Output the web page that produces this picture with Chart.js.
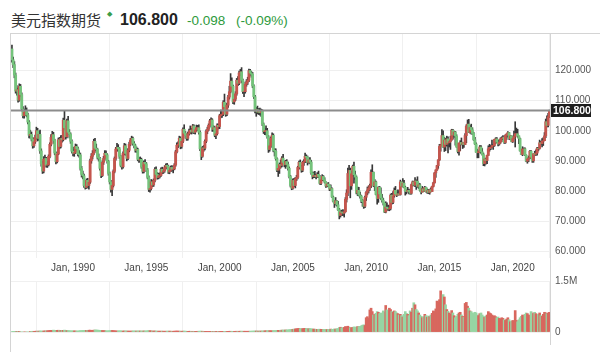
<!DOCTYPE html>
<html><head><meta charset="utf-8">
<script src="https://cdn.jsdelivr.net/npm/chart.js@4.4.0/dist/chart.umd.min.js"></script>
<style>
html,body{margin:0;padding:0;background:#fff;width:600px;height:352px;overflow:hidden;position:relative;font-family:"Liberation Sans",Arial,sans-serif}
.t{position:absolute;white-space:nowrap;line-height:1}
#title{left:11px;top:12px;font-family:"Noto Sans CJK SC","Noto Sans",sans-serif;font-size:15px;color:#333}
#dia{left:107px;top:10px;font-size:7px;color:#3a9d4a}
#last{left:120px;top:12px;font-size:16px;font-weight:bold;color:#222}
#chg{left:187px;top:14px;font-size:13.5px;color:#2e9a3c}
#pct{left:236px;top:14px;font-size:13.5px;color:#2e9a3c}
.ln{position:absolute;background:#d4d4d4}
canvas{position:absolute;left:0}
</style></head><body>
<div class="t" id="title">美元指数期货</div>
<div class="t" id="dia">◆</div>
<div class="t" id="last">106.800</div>
<div class="t" id="chg">-0.098</div>
<div class="t" id="pct">(-0.09%)</div>
<canvas id="pc" width="600" height="280" style="top:0"></canvas>
<canvas id="vc" width="600" height="82" style="top:270px"></canvas>
<div class="ln" style="left:10px;top:33px;width:590px;height:1px"></div>
<div class="ln" style="left:10px;top:33px;width:1px;height:319px"></div>
<div class="ln" style="left:550px;top:33px;width:1px;height:312px"></div>
<script>
// Monthly candles, Nov 1985 .. Jul 2022
const opens = [
127.2,123.6,
122.0,118.5,113.2,113.6,110.2,114.8,112.0,107.2,105.0,106.2,106.8,105.3,
102.9,98.5,98.8,97.2,95.0,96.3,97.8,100.0,97.5,98.8,93.3,89.0,
86.6,90.5,90.8,88.6,88.7,91.5,95.5,97.8,98.7,96.8,92.6,89.7,
92.3,97.0,94.8,97.5,97.0,103.5,101.0,98.0,103.3,99.5,98.8,96.5,
93.2,92.5,92.8,94.8,94.0,92.3,92.0,87.5,85.5,85.0,81.8,81.2,
83.5,81.8,82.9,90.0,91.5,92.5,96.5,94.2,93.8,91.2,90.8,87.5,
85.1,89.5,90.8,92.5,92.0,89.8,85.8,83.0,80.5,81.8,86.5,90.8,
93.9,94.5,94.0,91.5,88.5,88.0,92.5,95.0,92.5,90.8,93.5,95.5,
96.9,97.5,95.8,95.0,93.5,93.8,90.5,90.3,90.5,88.0,86.5,89.5,
89.0,87.0,84.5,80.5,80.8,83.0,82.0,83.5,87.2,85.5,84.5,85.0,
85.1,87.2,86.3,86.7,87.8,88.5,88.2,86.3,86.8,87.8,87.2,87.3,
88.6,93.0,95.2,95.5,97.5,94.8,96.5,100.5,99.2,98.5,97.5,99.0,
99.7,100.2,99.6,101.6,99.5,100.3,101.0,101.0,99.5,94.0,91.5,94.3,
94.2,96.5,99.8,100.5,101.8,103.3,103.6,100.5,101.0,98.5,99.0,101.8,
101.4,105.0,105.4,105.5,109.5,108.0,105.5,108.5,111.2,113.0,116.5,114.8,
109.6,110.5,112.3,116.8,115.8,119.2,119.6,116.8,113.0,113.0,115.5,116.2,
116.8,120.0,119.2,118.8,114.9,111.3,106.5,107.0,106.2,106.5,106.0,106.5,
102.2,99.7,100.0,100.0,98.0,93.8,95.0,97.5,98.5,93.5,93.2,90.7,
86.9,87.5,88.8,88.5,90.9,89.5,88.7,89.8,88.8,87.5,84.8,81.8,
80.9,83.5,81.8,84.0,84.5,87.8,89.5,88.0,86.9,89.5,89.8,91.5,
91.2,89.5,90.3,89.6,86.0,84.8,85.1,85.1,84.7,85.5,84.9,82.5,
83.7,84.8,83.7,82.9,81.6,82.3,81.8,80.6,80.8,78.0,76.6,75.8,
76.7,75.4,73.7,71.9,73.0,72.9,72.6,73.1,77.2,79.3,85.8,86.8,
81.7,85.7,88.2,85.4,84.6,79.3,80.2,78.6,78.3,76.8,76.4,74.9,
77.9,79.5,80.3,81.0,81.8,86.2,86.2,81.7,83.0,78.8,77.5,81.2,
79.0,77.6,76.9,75.9,73.0,74.6,74.3,74.0,74.2,78.6,76.2,78.4,
80.2,79.0,78.6,79.0,78.8,83.0,81.6,82.6,81.2,79.9,79.8,80.2,
79.8,79.2,82.1,83.0,81.9,83.3,83.2,81.5,82.0,80.2,79.6,80.7,
80.0,81.2,79.7,80.1,79.5,80.4,79.8,81.5,82.7,86.0,87.0,88.4,
90.3,94.8,95.3,98.4,94.6,96.9,95.5,97.3,96.0,96.4,97.0,100.2,
98.6,99.6,98.2,94.6,93.1,95.9,96.1,95.5,96.0,95.4,98.4,101.5,
102.2,99.5,101.1,100.3,99.1,97.0,95.6,92.9,92.7,93.1,94.6,93.0,
92.1,89.1,90.6,90.1,91.8,94.0,94.5,94.5,95.1,95.1,97.1,97.3,
96.2,95.6,96.2,97.3,97.5,97.8,96.1,98.5,98.9,99.4,97.4,98.3,
96.4,97.4,98.1,99.0,99.0,98.3,97.4,93.3,92.1,93.9,94.0,91.9,
89.9,90.6,90.9,93.2,91.3,90.0,92.4,92.2,92.6,94.2,94.1,96.0,
95.7,96.5,96.7,98.3,103.0,101.8,104.7];
const highs = [
128.5,124.5,
123.0,119.2,115.0,114.2,115.6,115.4,112.6,108.0,107.2,108.3,107.6,105.9,
103.4,100.2,99.6,97.8,97.4,98.6,101.2,100.8,99.8,100.2,94.0,89.8,
91.4,91.9,91.2,89.8,92.0,96.0,98.7,99.8,99.5,97.2,93.0,92.8,
97.6,97.8,98.4,98.5,104.2,106.6,101.6,103.9,104.8,100.4,99.3,97.0,
94.6,93.8,95.6,95.4,94.6,93.4,92.6,88.2,86.6,85.6,82.9,84.0,
84.2,83.4,90.6,92.4,93.4,97.2,97.5,95.6,94.2,92.3,91.2,88.0,
90.0,91.5,93.4,93.3,92.4,90.2,86.3,83.5,82.6,87.0,91.3,94.5,
95.8,95.4,94.5,91.9,89.3,93.0,95.8,95.6,93.0,94.1,96.2,97.5,
98.2,97.9,96.4,95.5,94.6,94.2,91.2,91.3,90.9,88.5,90.0,90.4,
89.5,87.5,85.0,81.8,83.8,83.6,84.0,87.8,88.0,86.1,85.9,86.0,
87.7,87.9,87.3,88.4,89.0,89.2,88.6,87.4,88.3,88.4,88.0,89.1,
93.5,96.0,96.3,98.2,98.0,97.0,101.0,102.0,99.8,99.0,99.6,100.6,
101.6,100.8,102.1,102.0,100.9,101.9,101.8,102.0,100.0,94.4,94.8,95.1,
97.0,100.3,101.2,102.3,103.8,104.3,104.0,101.7,101.4,99.8,102.3,102.3,
105.5,106.9,106.6,110.0,112.2,108.5,109.2,111.8,114.8,119.0,117.6,115.2,
111.9,113.0,117.4,118.0,119.8,120.4,121.0,117.2,114.8,116.2,117.0,117.8,
120.5,120.4,119.8,119.4,115.3,111.8,107.8,108.2,107.4,107.5,107.2,107.0,
102.6,100.8,101.6,100.8,98.4,96.0,98.0,99.3,99.0,94.1,94.0,91.0,
88.0,89.3,90.3,91.4,92.2,90.0,90.2,90.4,89.6,88.0,85.2,82.4,
84.0,84.2,84.5,85.2,88.2,89.9,90.3,88.5,89.9,90.4,92.6,92.0,
91.6,91.0,91.1,90.2,86.3,86.3,86.5,85.6,86.1,86.6,85.2,84.2,
85.4,85.1,84.4,83.1,82.6,82.8,82.0,82.0,81.0,78.3,76.8,77.8,
76.8,76.5,74.2,73.6,73.6,73.8,73.4,77.8,80.4,87.6,88.5,87.6,
86.5,88.6,89.6,86.6,85.0,81.3,81.2,79.6,78.6,77.2,76.7,78.3,
79.8,81.3,81.7,82.3,87.0,88.7,86.3,83.8,83.3,79.1,81.4,81.5,
81.0,78.9,77.6,76.0,76.4,76.0,75.3,75.1,79.0,79.2,79.8,81.0,
81.5,79.6,80.4,80.0,83.6,83.0,84.1,83.5,81.6,80.4,81.2,80.6,
80.4,82.3,83.3,83.2,84.4,83.7,84.7,82.6,82.4,80.8,81.5,81.0,
81.5,81.3,80.7,80.5,80.6,81.0,81.6,82.9,86.1,87.0,88.5,90.4,
95.5,95.5,100.4,100.0,97.8,97.5,98.2,98.0,96.8,98.2,100.5,100.5,
99.9,99.8,98.7,95.1,95.9,96.7,97.6,96.2,96.0,99.1,102.0,103.6,
103.8,101.8,102.2,101.0,99.5,97.8,96.0,93.9,93.3,95.1,95.1,94.1,
92.6,90.9,90.9,91.9,95.0,95.5,95.2,96.9,95.5,97.2,97.7,97.7,
96.9,97.0,97.7,98.0,98.4,97.8,98.7,99.0,99.7,99.5,98.5,98.3,
98.2,99.9,103.0,100.9,100.5,98.3,97.6,93.9,94.7,94.3,94.3,92.0,
91.0,91.6,93.4,93.4,91.4,92.4,93.2,93.7,94.5,94.5,96.9,96.5,
97.4,97.7,99.4,103.9,105.0,105.8,106.9];
const lows = [
122.8,121.0,
117.6,112.5,111.8,109.5,109.8,111.3,106.6,104.3,104.2,105.1,104.6,102.3,
97.6,97.5,96.6,94.2,94.5,95.8,97.2,96.6,96.8,92.5,88.2,85.8,
86.0,89.6,87.9,87.8,88.3,91.0,95.0,97.0,95.8,92.0,89.0,89.3,
92.0,94.0,94.3,96.2,96.6,100.2,97.2,97.6,98.8,97.6,95.8,92.6,
91.6,91.5,92.4,93.2,91.6,91.2,86.9,84.6,84.0,81.2,80.6,80.8,
81.0,80.6,82.5,89.2,90.6,92.0,93.5,92.8,90.6,89.9,86.9,84.4,
84.8,88.8,90.2,91.2,89.2,85.2,82.3,79.6,78.4,81.3,86.0,90.2,
93.2,93.2,90.8,88.0,87.2,87.6,92.0,91.8,90.0,90.4,93.0,95.0,
96.2,95.2,94.3,92.9,92.8,90.0,89.5,89.6,87.5,85.9,86.0,88.3,
86.4,84.0,79.8,79.6,80.3,81.4,81.5,83.0,85.0,83.9,84.0,84.3,
84.8,85.7,85.8,86.2,87.2,87.6,85.8,85.7,86.4,86.6,86.0,87.0,
88.2,92.6,94.4,95.0,94.0,94.2,96.0,98.6,97.5,96.8,96.9,98.5,
99.0,98.9,99.2,99.0,98.9,99.8,100.1,98.9,93.4,90.4,91.2,93.2,
93.6,96.0,99.0,100.0,101.2,102.6,99.8,99.8,98.0,97.4,98.6,100.6,
100.7,104.3,104.4,105.0,107.2,104.8,105.0,107.8,110.5,112.6,114.0,109.0,
108.8,110.0,111.8,115.0,115.3,118.3,115.9,112.4,111.3,112.5,114.8,115.4,
116.3,118.5,117.8,114.3,110.7,105.9,104.8,105.6,105.4,105.2,104.8,101.7,
99.1,98.7,98.6,97.5,92.8,93.2,94.5,96.9,93.0,91.6,90.2,86.4,
84.8,85.8,87.6,88.0,89.0,88.0,87.5,88.1,86.9,84.3,81.3,80.4,
80.6,81.4,81.0,83.4,84.0,87.2,87.5,86.2,86.4,88.5,89.4,89.5,
88.6,89.2,89.0,85.5,84.0,84.4,84.4,84.0,84.5,84.4,82.2,82.1,
83.4,83.3,82.6,81.2,81.3,81.5,80.1,80.2,77.8,76.3,74.5,75.3,
74.9,73.5,70.7,71.3,71.8,71.8,71.3,72.9,76.3,78.4,84.5,77.7,
80.5,84.8,82.6,83.8,79.0,78.4,78.3,77.6,76.1,74.9,74.2,74.4,
76.8,78.7,79.3,80.2,81.1,85.0,81.4,80.1,78.7,75.6,76.2,78.9,
77.2,76.3,75.3,72.8,72.7,73.6,73.5,73.4,73.7,75.6,75.8,77.9,
78.9,78.1,78.6,78.7,78.6,81.4,81.3,81.0,78.6,79.0,79.6,79.0,
78.9,78.9,81.6,81.7,81.4,80.5,81.2,80.8,79.9,79.0,79.6,79.8,
79.8,79.6,79.2,79.1,78.9,79.7,79.8,81.3,82.6,84.5,86.8,87.5,
90.1,93.2,95.2,94.5,93.1,93.4,94.9,92.6,94.6,93.8,96.8,97.2,
97.9,95.2,94.5,92.6,91.9,93.4,95.3,94.1,94.5,95.4,96.0,100.6,
99.4,99.2,98.9,98.8,96.8,95.5,92.8,91.0,91.0,92.7,92.5,91.9,
88.4,88.3,88.9,89.1,91.8,93.2,93.7,94.3,93.8,94.8,95.7,96.0,
95.0,95.2,95.8,96.4,97.0,95.8,95.8,97.1,97.9,97.1,97.0,96.3,
96.1,97.4,94.6,98.9,97.8,95.7,93.2,92.1,91.7,92.5,91.7,89.7,
89.2,89.7,90.6,90.9,89.5,89.5,91.8,91.8,91.9,93.3,93.9,95.5,
94.6,95.1,96.7,97.7,101.3,101.3,104.4];
const closes = [
123.6,122.0,
118.5,113.2,113.6,110.2,114.8,112.0,107.2,105.0,106.2,106.8,105.3,102.9,
98.5,98.8,97.2,95.0,96.3,97.8,100.0,97.5,98.8,93.3,89.0,86.6,
90.5,90.8,88.6,88.7,91.5,95.5,97.8,98.7,96.8,92.6,89.7,92.3,
97.0,94.8,97.5,97.0,103.5,101.0,98.0,103.3,99.5,98.8,96.5,93.2,
92.5,92.8,94.8,94.0,92.3,92.0,87.5,85.5,85.0,81.8,81.2,83.5,
81.8,82.9,90.0,91.5,92.5,96.5,94.2,93.8,91.2,90.8,87.5,85.1,
89.5,90.8,92.5,92.0,89.8,85.8,83.0,80.5,81.8,86.5,90.8,93.9,
94.5,94.0,91.5,88.5,88.0,92.5,95.0,92.5,90.8,93.5,95.5,96.9,
97.5,95.8,95.0,93.5,93.8,90.5,90.3,90.5,88.0,86.5,89.5,89.0,
87.0,84.5,80.5,80.8,83.0,82.0,83.5,87.2,85.5,84.5,85.0,85.1,
87.2,86.3,86.7,87.8,88.5,88.2,86.3,86.8,87.8,87.2,87.3,88.6,
93.0,95.2,95.5,97.5,94.8,96.5,100.5,99.2,98.5,97.5,99.0,99.7,
100.2,99.6,101.6,99.5,100.3,101.0,101.0,99.5,94.0,91.5,94.3,94.2,
96.5,99.8,100.5,101.8,103.3,103.6,100.5,101.0,98.5,99.0,101.8,101.4,
105.0,105.4,105.5,109.5,108.0,105.5,108.5,111.2,113.0,116.5,114.8,109.6,
110.5,112.3,116.8,115.8,119.2,119.6,116.8,113.0,113.0,115.5,116.2,116.8,
120.0,119.2,118.8,114.9,111.3,106.5,107.0,106.2,106.5,106.0,106.5,102.2,
99.7,100.0,100.0,98.0,93.8,95.0,97.5,98.5,93.5,93.2,90.7,86.9,
87.5,88.8,88.5,90.9,89.5,88.7,89.8,88.8,87.5,84.8,81.8,80.9,
83.5,81.8,84.0,84.5,87.8,89.5,88.0,86.9,89.5,89.8,91.5,91.2,
89.5,90.3,89.6,86.0,84.8,85.1,85.1,84.7,85.5,84.9,82.5,83.7,
84.8,83.7,82.9,81.6,82.3,81.8,80.6,80.8,78.0,76.6,75.8,76.7,
75.4,73.7,71.9,73.0,72.9,72.6,73.1,77.2,79.3,85.8,86.8,81.7,
85.7,88.2,85.4,84.6,79.3,80.2,78.6,78.3,76.8,76.4,74.9,77.9,
79.5,80.3,81.0,81.8,86.2,86.2,81.7,83.0,78.8,77.5,81.2,79.0,
77.6,76.9,75.9,73.0,74.6,74.3,74.0,74.2,78.6,76.2,78.4,80.2,
79.0,78.6,79.0,78.8,83.0,81.6,82.6,81.2,79.9,79.8,80.2,79.8,
79.2,82.1,83.0,81.9,83.3,83.2,81.5,82.0,80.2,79.6,80.7,80.0,
81.2,79.7,80.1,79.5,80.4,79.8,81.5,82.7,86.0,87.0,88.4,90.3,
94.8,95.3,98.4,94.6,96.9,95.5,97.3,96.0,96.4,97.0,100.2,98.6,
99.6,98.2,94.6,93.1,95.9,96.1,95.5,96.0,95.4,98.4,101.5,102.2,
99.5,101.1,100.3,99.1,97.0,95.6,92.9,92.7,93.1,94.6,93.0,92.1,
89.1,90.6,90.1,91.8,94.0,94.5,94.5,95.1,95.1,97.1,97.3,96.2,
95.6,96.2,97.3,97.5,97.8,96.1,98.5,98.9,99.4,97.4,98.3,96.4,
97.4,98.1,99.0,99.0,98.3,97.4,93.3,92.1,93.9,94.0,91.9,89.9,
90.6,90.9,93.2,91.3,90.0,92.4,92.2,92.6,94.2,94.1,96.0,95.7,
96.5,96.7,98.3,103.0,101.8,104.7,106.8];
// Monthly volume, millions of contracts
const volumes = [
0.012,0.012,
0.010,0.010,0.008,0.008,0.006,0,0,0,0,0,0,0,
0,0.018,0.020,0.022,0.020,0.022,0.024,0.025,0.026,0.030,0.028,0.026,
0.030,0.032,0.034,0.036,0.040,0.045,0.048,0.050,0.055,0.050,0.045,0.048,
0.052,0.050,0.048,0.045,0.050,0.055,0.045,0.040,0.042,0.038,0.035,0.032,
0.035,0.032,0.030,0.028,0.030,0.033,0.038,0.040,0.042,0.045,0.050,0.048,
0.050,0.052,0.055,0.050,0.048,0.055,0.060,0.058,0.055,0.052,0.050,0.045,
0.042,0.040,0.038,0.035,0.032,0.035,0.038,0.040,0.045,0.040,0.035,0.032,
0.030,0.032,0.035,0.033,0.030,0.028,0.030,0.032,0.030,0.028,0.026,0.025,
0.028,0.030,0.032,0.030,0.028,0.030,0.032,0.030,0.028,0.030,0.032,0.030,
0.032,0.035,0.040,0.038,0.032,0.030,0.028,0.030,0.028,0.026,0.025,0.024,
0.025,0.026,0.024,0.022,0.024,0.025,0.026,0.025,0.024,0.022,0.023,0.024,
0.026,0.028,0.026,0.025,0.024,0.022,0.025,0.026,0.024,0.022,0.020,0.022,
0.022,0.020,0.021,0.020,0.019,0.020,0.021,0.022,0.025,0.024,0.022,0.020,
0.020,0.019,0.018,0.017,0.018,0.019,0.018,0.017,0.018,0.019,0.018,0.017,
0.018,0.019,0.018,0.020,0.019,0.018,0.019,0.020,0.021,0.022,0.020,0.021,
0.020,0.021,0.022,0.021,0.022,0.023,0.024,0.022,0.023,0.022,0.021,0.022,
0.023,0.024,0.025,0.026,0.028,0.030,0.029,0.028,0.027,0.028,0.029,0.030,
0.032,0.034,0.036,0.035,0.040,0.038,0.036,0.035,0.040,0.042,0.040,0.045,
0.048,0.050,0.052,0.055,0.058,0.055,0.060,0.058,0.062,0.065,0.070,0.075,
0.080,0.085,0.090,0.095,0.100,0.105,0.098,0.095,0.100,0.102,0.105,0.100,
0.098,0.095,0.100,0.092,0.090,0.085,0.082,0.080,0.078,0.080,0.082,0.078,
0.075,0.072,0.075,0.070,0.072,0.070,0.075,0.085,0.080,0.078,0.090,0.085,
0.095,0.100,0.130,0.140,0.120,0.125,0.135,0.160,0.150,0.170,0.140,0.130,
0.125,0.135,0.150,0.140,0.145,0.160,0.155,0.165,0.180,0.200,0.210,0.190,
0.420,0.450,0.400,0.650,0.700,0.600,0.500,0.520,0.550,0.600,0.580,0.540,
0.560,0.540,0.620,0.580,0.780,0.650,0.600,0.700,0.660,0.600,0.580,0.620,
0.600,0.560,0.540,0.500,0.520,0.480,0.440,0.520,0.600,0.550,0.520,0.480,
0.620,0.580,0.700,0.860,0.800,0.660,0.620,0.560,0.500,0.460,0.420,0.450,
0.520,0.480,0.430,0.470,0.450,0.500,0.550,0.620,0.600,0.680,0.910,0.880,
0.950,1.210,1.070,1.100,1.030,0.800,0.660,0.610,0.560,0.520,0.630,0.560,
0.480,0.420,0.460,0.520,0.560,0.580,0.500,0.460,0.440,0.840,0.870,0.760,
0.700,0.620,0.600,0.560,0.540,0.580,0.560,0.500,0.480,0.540,0.560,0.500,
0.460,0.430,0.470,0.500,0.600,0.560,0.540,0.500,0.460,0.480,0.450,0.420,
0.440,0.400,0.380,0.420,0.400,0.360,0.340,0.380,0.420,0.360,0.300,0.320,
0.340,0.290,0.630,0.340,0.300,0.360,0.420,0.460,0.500,0.480,0.520,0.560,
0.540,0.500,0.480,0.600,0.520,0.560,0.580,0.540,0.500,0.520,0.560,0.480,
0.460,0.520,0.580,0.560,0.540,0.560,0.580];
const tickIdx = [50,110,170,230,290,350,410];
const tickLabels = ['Jan, 1990','Jan, 1995','Jan, 2000','Jan, 2005','Jan, 2010','Jan, 2015','Jan, 2020'];
const priceTicks = [60,70,80,90,100,110,120];
const volTicks = [0,1.5];
const volTickLabels = ['0','1.5M'];
const lastPrice = 106.8;

const UP = '#c4554d', DOWN = '#74c37b', WICK = '#383838';
const VUP = '#d8675e', VDOWN = '#97d5a3';
const isUp = i => closes[i] >= opens[i];
const XMIN = -1.6, XMAX = 440.5;
const FONT = {family:'"Liberation Sans", Arial, sans-serif', size:10};

const bodyData = opens.map((o,i)=>({x:i, y:[o, closes[i]]}));
const wickData = highs.map((h,i)=>({x:i, y:[lows[i], h]}));
const volData = volumes.map((v,i)=>({x:i, y:v}));

const lastLine = {
  id:'lastLine',
  afterDraw(c){
    const ctx=c.ctx, a=c.chartArea, y=Math.round(c.scales.y.getPixelForValue(lastPrice))+0.5;
    ctx.save();
    ctx.strokeStyle='#8c8c8c'; ctx.lineWidth=2;
    ctx.beginPath(); ctx.moveTo(a.left,y); ctx.lineTo(a.right,y); ctx.stroke();
    ctx.fillStyle='#1e1e1e'; ctx.fillRect(a.right+1, y-6.5, 40, 13);
    ctx.fillStyle='#fff'; ctx.font='bold 10.5px "Liberation Sans", Arial, sans-serif';
    ctx.textBaseline='middle'; ctx.textAlign='left';
    ctx.fillText(lastPrice.toFixed(3), a.right+3, y+0.5);
    ctx.restore();
  }
};

new Chart(document.getElementById('pc'), {
  type:'bar',
  data:{datasets:[
    {data:bodyData, grouped:false, barThickness:2.2, backgroundColor:c=>isUp(c.dataIndex)?UP:DOWN, borderWidth:0},
    {data:wickData, grouped:false, barThickness:1, backgroundColor:WICK, borderWidth:0}
  ]},
  options:{
    responsive:false, animation:false, events:[],
    layout:{padding:{left:10,top:33,right:0,bottom:0}},
    plugins:{legend:{display:false},tooltip:{enabled:false}},
    scales:{
      x:{type:'linear', min:XMIN, max:XMAX, offset:false,
        grid:{color:'#f0f0f0', drawTicks:false}, border:{display:false},
        afterBuildTicks:s=>{s.ticks=tickIdx.map(v=>({value:v}));},
        afterFit:s=>{s.height=22;},
        ticks:{padding:4, color:'#444', font:FONT, maxRotation:0, autoSkip:false,
          callback:v=>tickLabels[tickIdx.indexOf(v)]}},
      y:{position:'right', min:57.7, max:132.5,
        grid:{color:'#efefef', drawTicks:false}, border:{display:false},
        afterBuildTicks:s=>{s.ticks=priceTicks.map(v=>({value:v}));},
        afterFit:s=>{s.width=50;},
        ticks:{padding:5, color:'#555', font:FONT, callback:v=>Number(v).toFixed(3)}}
    }
  },
  plugins:[lastLine]
});

new Chart(document.getElementById('vc'), {
  type:'bar',
  data:{datasets:[
    {data:volData, barThickness:2, backgroundColor:c=>isUp(c.dataIndex)?VUP:VDOWN, borderWidth:0}
  ]},
  options:{
    responsive:false, animation:false, events:[],
    layout:{padding:{left:10,top:9,right:0,bottom:0}},
    plugins:{legend:{display:false},tooltip:{enabled:false}},
    scales:{
      x:{type:'linear', min:XMIN, max:XMAX, offset:false,
        grid:{color:'#f0f0f0', drawTicks:false}, border:{display:false},
        afterBuildTicks:s=>{s.ticks=tickIdx.map(v=>({value:v}));},
        afterFit:s=>{s.height=20;},
        ticks:{display:false}},
      y:{position:'right', min:0, max:1.5,
        grid:{color:'#f0f0f0', drawTicks:false}, border:{display:false},
        afterBuildTicks:s=>{s.ticks=volTicks.map(v=>({value:v}));},
        afterFit:s=>{s.width=50;},
        ticks:{padding:5, color:'#555', font:FONT, callback:v=>volTickLabels[volTicks.indexOf(v)]}}
    }
  }
});
</script>
</body></html>
